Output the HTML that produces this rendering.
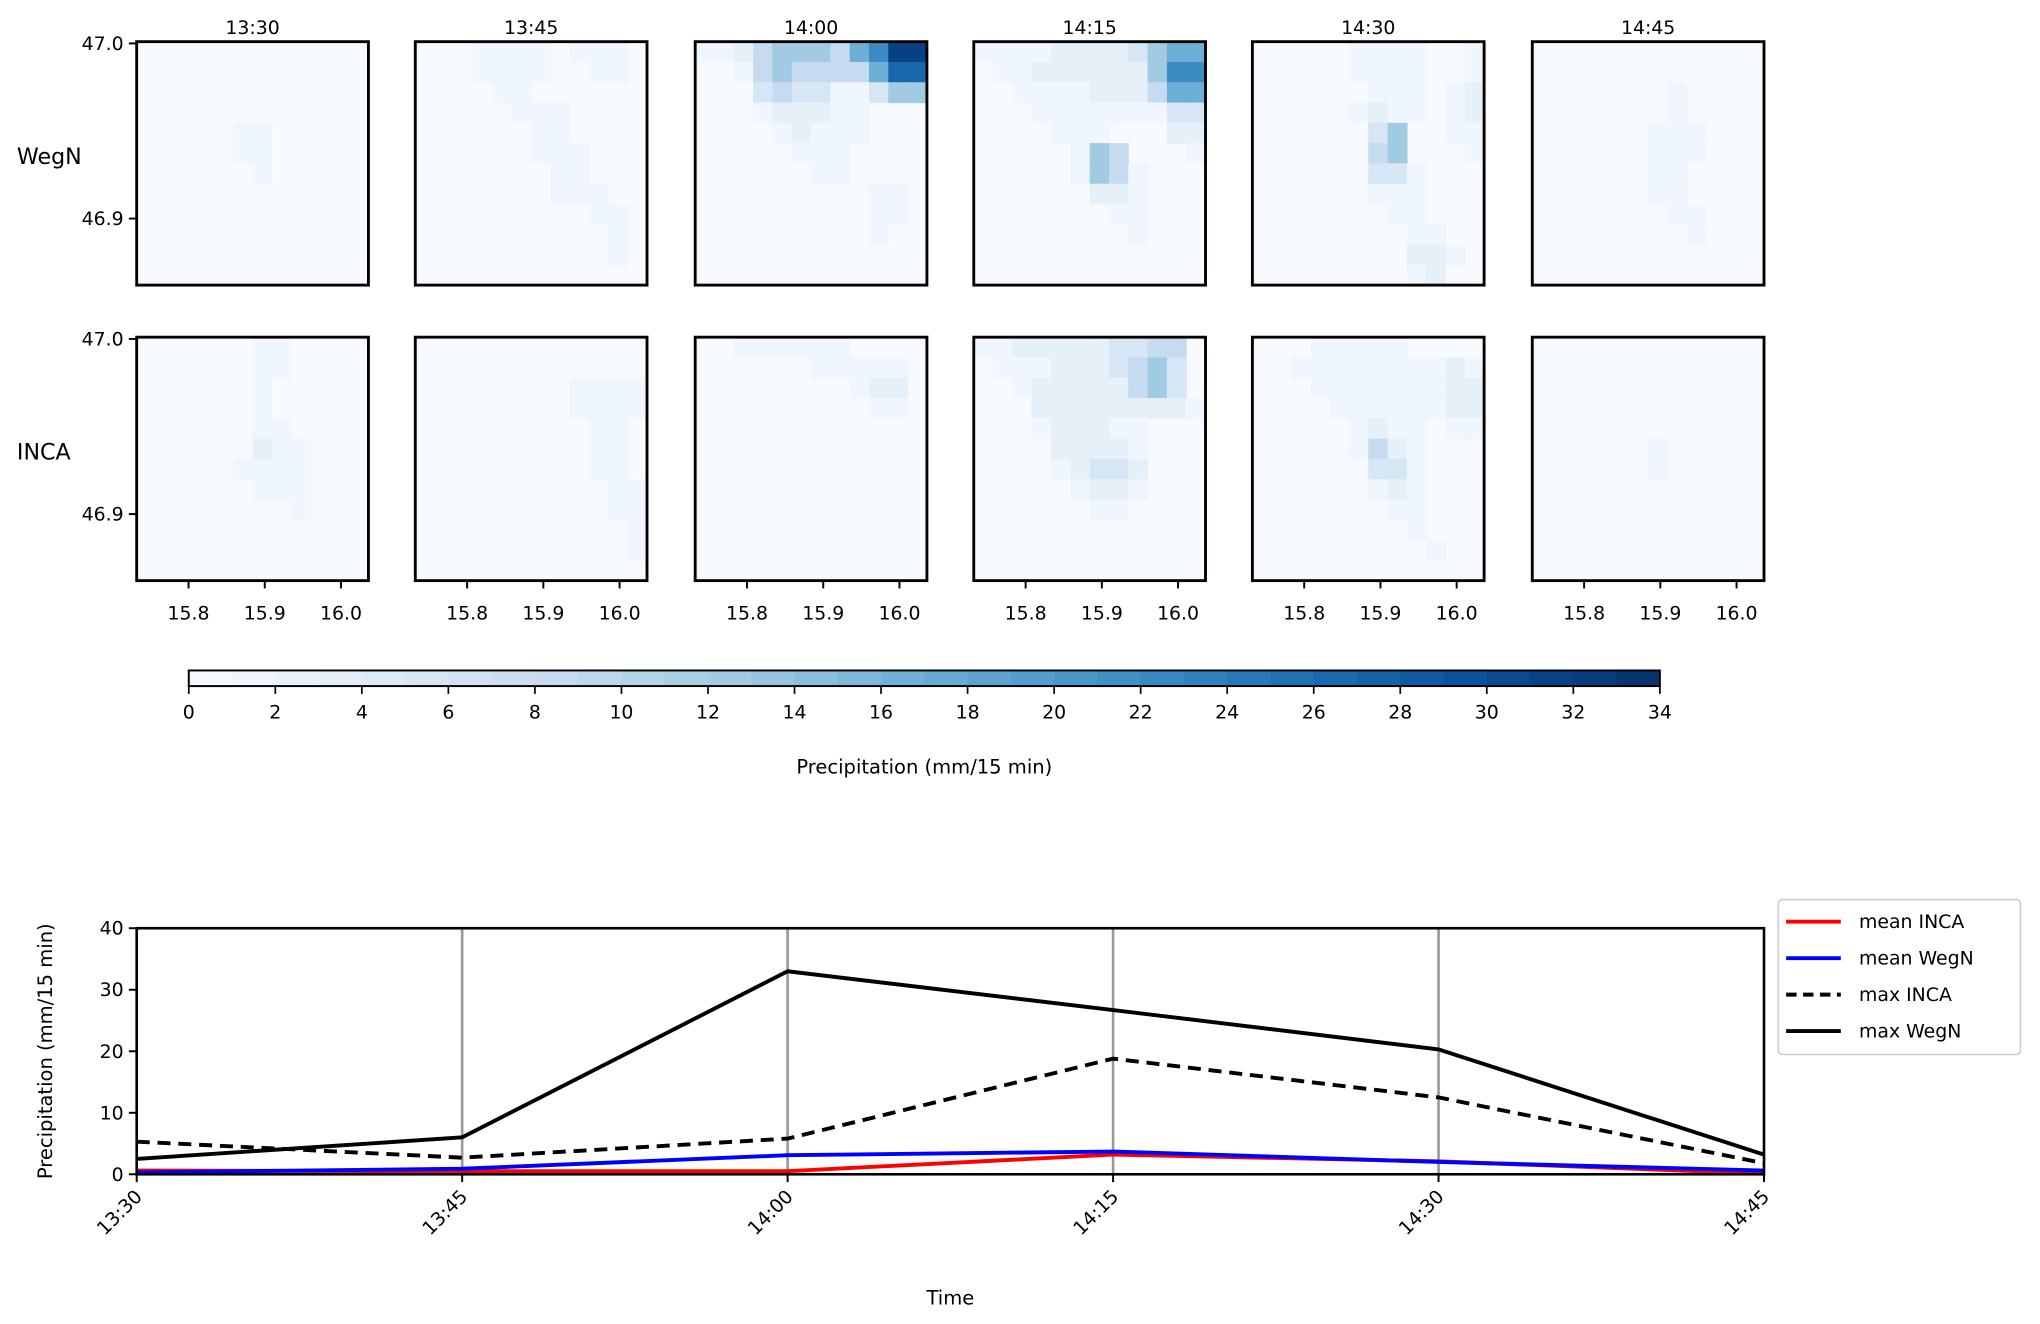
<!DOCTYPE html>
<html><head><meta charset="utf-8"><style>
html,body{margin:0;padding:0;background:#fff}
svg{display:block;font-family:"DejaVu Sans","Liberation Sans",sans-serif}
</style></head><body>
<svg id="fig" width="2040" height="1324" viewBox="0 0 1567 1017" xmlns="http://www.w3.org/2000/svg">
<g id="maps"></g>
<g id="cbar"></g>
<g id="ts"></g>
</svg>
<script>
const NS="http://www.w3.org/2000/svg";
const times=["13:30","13:45","14:00","14:15","14:30","14:45"];
const rowNames=["WegN","INCA"];
const digitValues=[0,1.2,3,5.5,8.5,12.5,17,22,27,32];
const gridWegN=[
["000000000000","000000000000","000000000000","000000000000","000001100000","000001100000","000000100000","000000000000","000000000000","000000000000","000000000000","000000000000"],
["000111101110","000111100110","000011000000","000001110000","000000110000","000000111000","000000011000","000000011100","000000000110","000000000010","000000000010","000000000000"],
["112455546799","001454444688","000343311355","000122211000","000012111000","000001110000","000000110000","000000000110","000000000110","000000000100","000000000000","000000000000"],
["111122223566","011222222577","001111222466","000111111133","000011100022","000001540001","000001541000","000000221000","000000011000","000000001000","000000000000","000000000000"],
["000001111001","000001111001","000000111012","000001211012","000000350011","000000450001","000000331000","000000111000","000000011000","000000001100","000000002210","000000001200"],
["000000000000","000000000000","000000010000","000000010000","000000111000","000000111000","000000110000","000000110000","000000011000","000000001000","000000000000","000000000000"]];
const gridINCA=[
["000000110000","000000110000","000000100000","000000100000","000000110000","000000211000","000001111000","000000111000","000000001000","000000000000","000000000000","000000000000"],
["000000000000","000000000000","000000001111","000000001111","000000000110","000000000110","000000000110","000000000011","000000000011","000000000001","000000000001","000000000000"],
["001111110000","000000111110","000000001220","000000000110","000000000000","000000000000","000000000000","000000000000","000000000000","000000000000","000000000000","000000000000"],
["112222233440","011122234530","001222224530","000222222221","000122211000","000022221000","000012332000","000001221000","000000110000","000000000000","000000000000","000000000000"],
["000111110000","001111111121","000111111122","000011111122","000001211011","000001421000","000000331000","000000121000","000000011000","000000001000","000000000100","000000000000"],
["000000000000","000000000000","000000000000","000000000000","000000000000","000000100000","000000100000","000000000000","000000000000","000000000000","000000000000","000000000000"]];
const vmax=34;
const cbTicks=[0,2,4,6,8,10,12,14,16,18,20,22,24,26,28,30,32,34];
const lonTicks=[15.8,15.9,16.0];
const latTicks=[47.0,46.9];
const tsTimes=["13:30","13:45","14:00","14:15","14:30","14:45"];
const meanINCA=[0.6,0.5,0.5,3.2,2.1,0.1];
const meanWegN=[0.3,0.9,3.1,3.7,2.0,0.6];
const maxINCA=[5.3,2.7,5.8,18.8,12.5,1.8];
const maxWegN=[2.5,6.0,33.0,26.7,20.3,3.2];
const yTicks=[0,10,20,30,40];

function el(tag,attrs,parent,text){const e=document.createElementNS(NS,tag);for(const k in attrs)e.setAttribute(k,attrs[k]);if(text!==undefined)e.textContent=text;parent.appendChild(e);return e;}
const stops=[[0,"#f7fbff"],[0.125,"#deebf7"],[0.25,"#c6dbef"],[0.375,"#9ecae1"],[0.5,"#6baed6"],[0.625,"#4292c6"],[0.75,"#2171b5"],[0.875,"#08519c"],[1,"#08306b"]];
function hex(c){return [1,3,5].map(i=>parseInt(c.substr(i,2),16));}
function cmap(t){t=Math.max(0,Math.min(1,t));for(let i=1;i<stops.length;i++){if(t<=stops[i][0]){const a=stops[i-1],b=stops[i];const f=(t-a[0])/(b[0]-a[0]);const A=hex(a[1]),B=hex(b[1]);return "rgb("+A.map((v,j)=>Math.round(v+(B[j]-v)*f)).join(",")+")";}}return stops[8][1];}

const FS=14.5;
const maps=document.getElementById("maps");
const colX=[105,319,534,748,962,1177],pw=178;
const rowY=[32,259],ph=187;
const lonMin=15.732,lonMax=16.036,latMax=47.001,latMin=46.862;
[gridWegN,gridINCA].forEach((grids,r)=>{
  const lab=el("text",{x:13,y:rowY[r]+94,"font-size":17},maps,rowNames[r]);
  
  
  grids.forEach((g,c)=>{
    const x0=colX[c],y0=rowY[r];
    const pg=el("g",{},maps);
    
    
    el("rect",{x:x0,y:y0,width:pw,height:ph,fill:cmap(0)},pg);
    const cw=pw/12,ch=ph/12;
    g.forEach((row,ri)=>{for(let ci=0;ci<row.length;ci++){const v=digitValues[+row[ci]];if(v>0){const cell=el("rect",{x:x0+ci*cw,y:y0+ri*ch,width:cw+0.5,height:ch+0.5,fill:cmap(v/vmax)},pg);}}});
    el("rect",{x:x0,y:y0,width:pw,height:ph,fill:"none",stroke:"#000","stroke-width":2.2},pg);
    if(r===0){const t=el("text",{x:x0+pw/2,y:26,"font-size":FS,"text-anchor":"middle"},pg,times[c]);}
    if(c===0){latTicks.forEach(l=>{const y=y0+(latMax-l)/(latMax-latMin)*ph;el("line",{x1:x0-6,x2:x0,y1:y,y2:y,stroke:"#000","stroke-width":1.5},pg);const t=el("text",{x:x0-10,y:y+5,"font-size":FS,"text-anchor":"end"},pg,l.toFixed(1));});}
    if(r===1){lonTicks.forEach(l=>{const x=x0+(l-lonMin)/(lonMax-lonMin)*pw;el("line",{x1:x,x2:x,y1:y0+ph,y2:y0+ph+6,stroke:"#000","stroke-width":1.5},pg);const t=el("text",{x:x,y:y0+ph+30,"font-size":FS,"text-anchor":"middle"},pg,l.toFixed(1));});}
  });
});

const cb=document.getElementById("cbar");
const cbx0=145,cbx1=1275,cby=515,cbh=12;
const cbX=v=>cbx0+v/vmax*(cbx1-cbx0);
for(let i=0;i<vmax;i++){el("rect",{x:cbX(i),y:cby,width:cbX(i+1)-cbX(i)+0.4,height:cbh,fill:cmap((i+0.5)/vmax)},cb);}
el("rect",{x:cbx0,y:cby,width:cbx1-cbx0,height:cbh,fill:"none",stroke:"#000","stroke-width":1.5},cb);
cbTicks.forEach(v=>{el("line",{x1:cbX(v),x2:cbX(v),y1:cby+cbh,y2:cby+cbh+6,stroke:"#000","stroke-width":1.3},cb);const t=el("text",{x:cbX(v),y:cby+cbh+25,"font-size":FS,"text-anchor":"middle"},cb,String(v));});
const cbl=el("text",{x:(cbx0+cbx1)/2,y:594,"font-size":15,"text-anchor":"middle"},cb,"Precipitation (mm/15 min)");



const ts=document.getElementById("ts");
const ax0=105,ax1=1355,ay0=713,ay1=902,ymax=40;
const X=i=>ax0+i/(tsTimes.length-1)*(ax1-ax0);
const Y=v=>ay1-v/ymax*(ay1-ay0);
tsTimes.forEach((t,i)=>{if(i>0&&i<tsTimes.length-1)el("line",{x1:X(i),x2:X(i),y1:ay0,y2:ay1,stroke:"#999","stroke-width":2},ts);});
function series(vals,color,dash,name){const p=el("polyline",{points:vals.map((v,i)=>X(i)+","+Y(v)).join(" "),fill:"none",stroke:color,"stroke-width":3,"stroke-dasharray":dash||"none"},ts);}
series(maxWegN,"#000",null,"line-max-wegn");
series(maxINCA,"#000","10,6","line-max-inca");
series(meanINCA,"#ff0000",null,"line-mean-inca");
series(meanWegN,"#0000ff",null,"line-mean-wegn");
el("rect",{x:ax0,y:ay0,width:ax1-ax0,height:ay1-ay0,fill:"none",stroke:"#000","stroke-width":2},ts);
yTicks.forEach(v=>{el("line",{x1:ax0-6,x2:ax0,y1:Y(v),y2:Y(v),stroke:"#000","stroke-width":1.5},ts);const t=el("text",{x:ax0-10,y:Y(v)+5,"font-size":FS,"text-anchor":"end"},ts,String(v));});
tsTimes.forEach((s,i)=>{el("line",{x1:X(i),x2:X(i),y1:ay1,y2:ay1+6,stroke:"#000","stroke-width":1.5},ts);const tx=X(i)+5,ty=ay1+18;const t=el("text",{x:tx,y:ty,"font-size":FS,"text-anchor":"end",transform:"rotate(-45 "+tx+" "+ty+")"},ts,s);});
const xl=el("text",{x:730,y:1002,"font-size":15,"text-anchor":"middle"},ts,"Time");


const yl=el("text",{x:40,y:(ay0+ay1)/2,"font-size":15,"text-anchor":"middle",transform:"rotate(-90 40 "+((ay0+ay1)/2)+")"},ts,"Precipitation (mm/15 min)");


const lg=el("g",{},ts);


el("rect",{x:1366,y:691,width:186,height:119,rx:3,fill:"#fff",stroke:"#ccc","stroke-width":1.2},lg);
const legItems=[["mean INCA","#ff0000",null],["mean WegN","#0000ff",null],["max INCA","#000","8,5"],["max WegN","#000",null]];
legItems.forEach((it,i)=>{const y=708+i*28;el("line",{x1:1372,x2:1414,y1:y,y2:y,stroke:it[1],"stroke-width":3,"stroke-dasharray":it[2]||"none"},lg);const t=el("text",{x:1428,y:y+5,"font-size":FS},lg,it[0]);});
</script>
</body></html>
